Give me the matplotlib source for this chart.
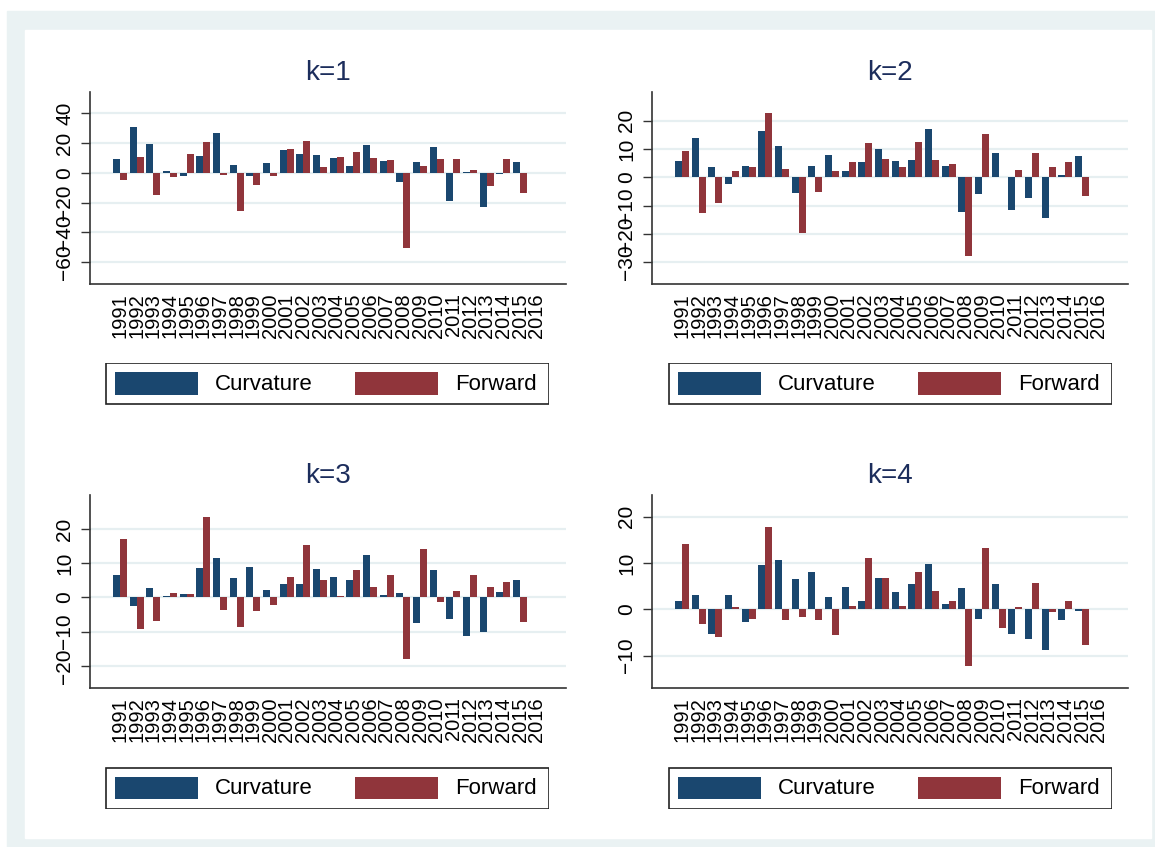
"""
Curvature vs Forward, barras por año para k=1..4
"""
import matplotlib.pyplot as plt
from matplotlib.patches import Rectangle
import numpy as np

years = [str(y) for y in range(1991, 2017)]

curv_k1 = [9, 31, 19, 1, -2, 11, 26.5, 5, -2, 6.5, 15, 12.5, 12, 10, 4.5,
           18.5, 8, -6, 7.5, 17, -19, 0.5, -23, -1, 7]
fwd_k1 = [-5, 10.5, -15, -3, 12.7, 21, -1.5, -25.5, -8, -2.5, 16, 21.5, 4, 10.5, 14,
          10, 8.5, -50.5, 4.5, 9, 9, 2, -9, 9, -13.5]

curv_k2 = [5.9, 14, 3.5, -2.2, 4.2, 16.5, 11, -5.5, 4.2, 7.8, 2.4, 5.4, 10, 5.9, 6.1,
           17.2, 4.2, -12.2, -6, 8.8, -11.5, -7.3, -14.5, 0.9, 7.5]
fwd_k2 = [9.3, -12.6, -9.1, 2.4, 3.6, 22.8, 2.8, -19.5, -5.3, 2.2, 5.5, 12.2, 6.4, 3.5, 12.6,
          6.1, 4.7, -27.9, 15.2, 0.2, 2.6, 8.6, 3.5, 5.3, -6.5]

curv_k3 = [6.5, -2.4, 2.8, 0.3, 1, 8.7, 11.6, 5.8, 8.8, 2.2, 3.8, 3.9, 8.4, 6.1, 5.2,
           12.5, 0.8, 1.3, -7.5, 8, -6.4, -11.4, -10, 1.7, 5.2]
fwd_k3 = [17.2, -9.1, -6.8, 1.4, 1.1, 23.7, -3.8, -8.7, -4.1, -2.1, 6, 15.4, 5.2, 0.5, 8.1,
          3.1, 6.6, -18, 14.2, -1.3, 1.8, 6.5, 3.2, 4.6, -7.3]

curv_k4 = [1.7, 3.2, -5.3, 3.2, -2.7, 9.6, 10.6, 6.6, 8.1, 2.7, 4.8, 1.7, 6.8, 3.8, 5.5,
           9.7, 1.2, 4.6, -2, 5.5, -5.4, -6.4, -8.7, -2.2, -0.4]
fwd_k4 = [14.1, -3.1, -6, 0.4, -2, 17.8, -2.4, -1.7, -2.2, -5.5, 0.7, 11, 6.8, 0.8, 8,
          3.9, 1.9, -12.3, 13.3, -4, 0.4, 5.7, -0.5, 1.9, -7.8]

panels = [
    ("k=1", curv_k1, fwd_k1, (-74.8, 54.3), np.arange(-60, 41, 20)),
    ("k=2", curv_k2, fwd_k2, (-37.7, 30.2), np.arange(-30, 21, 10)),
    ("k=3", curv_k3, fwd_k3, (-26.5, 30.0), np.arange(-20, 21, 10)),
    ("k=4", curv_k4, fwd_k4, (-17.0, 24.7), np.arange(-10, 21, 10)),
]

BLUE = "#1a476f"
RED = "#90353b"
BG = "#eaf2f3"
W, H = 1155, 847


def fig_rect(x0, y0, x1, y1):
    """px (desde arriba-izquierda) -> [left, bottom, width, height] en fracción"""
    return [x0 / W, 1 - y1 / H, (x1 - x0) / W, (y1 - y0) / H]


def draw_legend(fig, x0, y0):
    lax = fig.add_axes(fig_rect(x0, y0, x0 + 444, y0 + 42))
    lax.set_xlim(0, 444)
    lax.set_ylim(42, 0)
    lax.axis("off")
    lax.add_patch(Rectangle((0.5, 0.5), 443, 41, fill=False, edgecolor="#222222", lw=1.2))
    lax.add_patch(Rectangle((10, 9.5), 83, 22.5, color=BLUE, lw=0))
    lax.add_patch(Rectangle((250, 9.5), 83, 22.5, color=RED, lw=0))
    lax.text(110, 21.5, "Curvature", fontsize=16, va="center", ha="left", color="black")
    lax.text(350, 21.5, "Forward", fontsize=16, va="center", ha="left", color="black")


def main():
    plt.rcParams["font.family"] = ["Liberation Sans", "DejaVu Sans"]
    fig = plt.figure(figsize=(W / 100, H / 100), dpi=100)

    # Fondo tipo Stata
    fig.patches.append(Rectangle((7 / W, 0), 1 - 7 / W, 1 - 11 / H,
                                 transform=fig.transFigure, color=BG, zorder=-3))
    fig.patches.append(Rectangle((25 / W, 1 - 838 / H), 1126 / W, 808 / H,
                                 transform=fig.transFigure, color="white", zorder=-2))

    boxes = [(90, 92, 566, 284), (652, 92, 1128, 284),
             (90, 495, 566, 688), (652, 495, 1128, 688)]
    legend_pos = [(105, 363), (668, 363), (105, 767), (668, 767)]

    n = len(curv_k1)
    x = np.arange(n)
    bw = 0.42

    for (title, curv, fwd, ylim, yticks), box, lpos in zip(panels, boxes, legend_pos):
        ax = fig.add_axes(fig_rect(*box))
        ax.set_facecolor("none")
        ax.bar(x - bw / 2, curv, bw, color=BLUE, lw=0, zorder=3)
        ax.bar(x + bw / 2, fwd, bw, color=RED, lw=0, zorder=3)

        ax.set_xlim(-1.8, 26.75)
        ax.set_ylim(*ylim)
        ax.set_yticks(yticks)
        ax.set_xticks(np.arange(len(years)))
        ax.set_xticklabels(years, rotation=90)
        ax.yaxis.grid(True, color="#e6eff1", lw=1.6, zorder=0)
        ax.set_axisbelow(True)

        for s in ["top", "right"]:
            ax.spines[s].set_visible(False)
        for s in ["left", "bottom"]:
            ax.spines[s].set_color("#333333")
            ax.spines[s].set_linewidth(1.2)

        ax.tick_params(axis="y", length=6.5, width=1, color="#333333",
                       labelsize=15, pad=5, labelrotation=90)
        ax.tick_params(axis="x", length=0, labelsize=14.5, pad=6.5)
        for lab in ax.get_yticklabels():
            lab.set_va("center")

        ax.set_title(title, fontsize=20, color="#1c2d5c", pad=8.5)
        draw_legend(fig, *lpos)

    fig.savefig("out.png", dpi=100)


if __name__ == "__main__":
    main()
